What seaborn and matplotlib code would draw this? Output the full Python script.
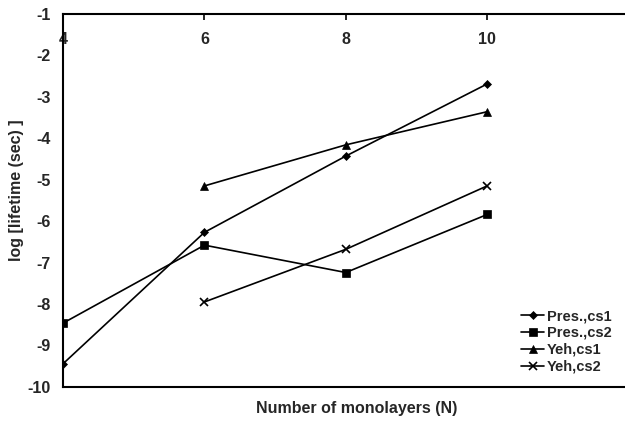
"""
Lifetime vs number of monolayers
"""

import pandas as pd
import seaborn as sns
import matplotlib.pyplot as plt

# dati
series_names = ["Pres.,cs1", "Pres.,cs2", "Yeh,cs1", "Yeh,cs2"]
n_pres = [4, 6, 8, 10]
n_yeh = [6, 8, 10]
pres_cs1 = [-9.44, -6.27, -4.43, -2.69]
pres_cs2 = [-8.46, -6.58, -7.24, -5.84]
yeh_cs1 = [-5.15, -4.16, -3.36]
yeh_cs2 = [-7.95, -6.68, -5.15]

rows = []
for name, xs, ys in [
    (series_names[0], n_pres, pres_cs1),
    (series_names[1], n_pres, pres_cs2),
    (series_names[2], n_yeh, yeh_cs1),
    (series_names[3], n_yeh, yeh_cs2),
]:
    for x, y in zip(xs, ys):
        rows.append({"N": x, "logt": y, "serie": name})
df = pd.DataFrame(rows)

sns.set_style("white")
plt.rcParams["font.family"] = ["Liberation Sans", "DejaVu Sans"]
plt.rcParams["font.weight"] = "bold"

fig = plt.figure(figsize=(6.25, 4.21), dpi=100)
ax = fig.add_axes([0.101, 0.081, 0.899, 0.886])

markers = {"Pres.,cs1": "D", "Pres.,cs2": "s", "Yeh,cs1": "^", "Yeh,cs2": "x"}
msizes = {"Pres.,cs1": 4, "Pres.,cs2": 6, "Yeh,cs1": 6, "Yeh,cs2": 6}
for name in series_names:
    sub = df[df["serie"] == name]
    sns.lineplot(
        data=sub, x="N", y="logt", ax=ax, color="black", linewidth=1.2,
        marker=markers[name], markersize=msizes[name], markeredgecolor="black",
        markeredgewidth=1.2 if name == "Yeh,cs2" else 0.5, label=name,
    )

ax.set_xlim(4, 11.95)
ax.set_ylim(-10, -1)
ax.set_xticks([4, 6, 8, 10])
ax.set_yticks(range(-10, 0))

# asse x in alto, etichette dentro il grafico
ax.xaxis.tick_top()
ax.tick_params(axis="x", direction="in", length=4, width=1.2, pad=-24, labelsize=11.5, color="black")
ax.tick_params(axis="y", direction="in", length=4, width=1, pad=9, labelsize=11.5, color="black")
ax.set_xticklabels(["4", "6", "8", "10"], fontweight="bold")
ax.set_yticklabels([str(v) for v in range(-10, 0)], fontweight="bold")

for side in ["left", "top", "bottom"]:
    ax.spines[side].set_color("black")
    ax.spines[side].set_linewidth(1.5)
ax.spines["right"].set_visible(False)

ax.set_xlabel("")
ax.set_ylabel("")
fig.text(0.026, 0.549, "log [lifetime (sec) ]", rotation=90, ha="center", va="center",
         fontsize=11.5, fontweight="bold")
fig.text(0.57, 0.018, "Number of monolayers (N)", ha="center", fontsize=11.5, fontweight="bold")

ax.legend(
    loc="lower right", bbox_to_anchor=(1.0, 0.0), frameon=False,
    handlelength=1.6, handletextpad=0.2, labelspacing=0.2,
    prop={"weight": "bold", "size": 10.5},
)

plt.savefig("out.png", dpi=100)
